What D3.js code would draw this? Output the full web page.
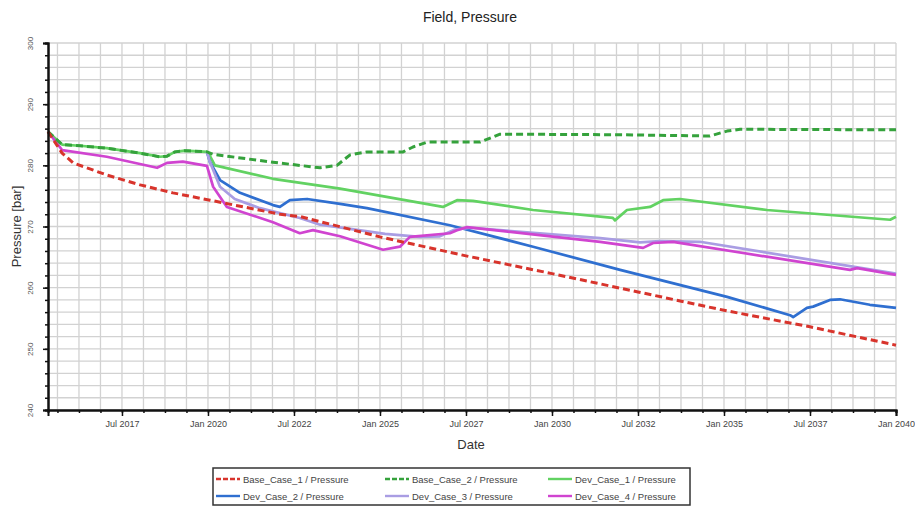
<!DOCTYPE html>
<html>
<head>
<meta charset="utf-8">
<script src="https://cdn.jsdelivr.net/npm/d3@7"></script>
<style>
  body { margin: 0; background: #fff; }
  svg { display: block; font-family: Arial, "Liberation Sans", sans-serif; }
</style>
</head>
<body>
<svg id="chart" width="915" height="516"></svg>
<script>
// Field pressure per case, as [decimal year, pressure in bar]
const baseCase1 = [
  [2015.35, 285.5], [2015.76, 282.0], [2016.08, 280.4], [2017.07, 278.4],
  [2018.03, 276.8], [2018.98, 275.5], [2020.06, 274.3], [2022.1, 272.0],
  [2022.7, 271.6], [2025.0, 268.3], [2027.5, 265.2], [2030.0, 262.3],
  [2032.5, 259.3], [2035.0, 256.3], [2037.5, 253.6], [2040.0, 250.6]
];
const baseCase2 = [
  [2015.35, 285.5], [2015.76, 283.4], [2016.28, 283.2], [2017.06, 282.8],
  [2018.02, 282.0], [2018.6, 281.4], [2018.81, 281.5], [2019.04, 282.2],
  [2019.33, 282.4], [2019.97, 282.2], [2020.15, 281.8], [2021.89, 280.5],
  [2023.26, 279.6], [2023.75, 280.0], [2024.13, 281.7], [2024.62, 282.2],
  [2025.67, 282.2], [2025.96, 283.0], [2026.37, 283.8], [2027.91, 283.8],
  [2028.49, 285.1], [2031.98, 285.0], [2034.59, 284.8], [2035.09, 285.6],
  [2035.47, 285.9], [2040.0, 285.8]
];
const devCase1 = [
  [2015.35, 285.5], [2015.76, 283.4], [2016.28, 283.2], [2017.06, 282.8],
  [2018.02, 282.0], [2018.6, 281.4], [2018.81, 281.5], [2019.04, 282.2],
  [2019.33, 282.4], [2019.97, 282.2], [2020.06, 281.5], [2020.2, 280.0],
  [2021.89, 277.8], [2023.84, 276.2], [2026.83, 273.2], [2027.24, 274.3],
  [2027.7, 274.2], [2029.45, 272.7], [2031.77, 271.4], [2031.83, 271.0],
  [2032.18, 272.7], [2032.85, 273.2], [2033.23, 274.3], [2033.72, 274.5],
  [2036.25, 272.7], [2039.83, 271.1], [2040.0, 271.6]
];
const devCase2 = [
  [2019.97, 282.2], [2020.06, 280.5], [2020.35, 277.6], [2020.93, 275.5],
  [2021.89, 273.5], [2022.09, 273.2], [2022.38, 274.3], [2022.88, 274.5],
  [2023.84, 273.7], [2024.62, 273.0], [2027.03, 270.2], [2029.45, 266.7],
  [2031.98, 262.9], [2035.09, 258.5], [2036.92, 255.5], [2037.01, 255.2],
  [2037.41, 256.7], [2037.59, 256.9], [2038.08, 258.0], [2038.37, 258.1],
  [2039.24, 257.2], [2040.0, 256.7]
];
const devCase3 = [
  [2019.97, 282.2], [2020.06, 280.5], [2020.35, 276.5], [2020.78, 274.5],
  [2021.51, 273.0], [2022.67, 271.4], [2023.26, 270.3], [2024.13, 269.6],
  [2025.15, 268.8], [2026.16, 268.3], [2026.74, 268.4], [2027.18, 269.5],
  [2027.62, 269.8], [2031.4, 268.1], [2032.56, 267.4], [2033.14, 267.6],
  [2034.3, 267.5], [2040.0, 262.3]
];
const devCase4 = [
  [2015.35, 285.5], [2015.76, 282.5], [2017.06, 281.4], [2018.52, 279.6],
  [2018.81, 280.4], [2019.27, 280.6], [2019.97, 279.9], [2020.15, 276.5],
  [2020.55, 273.2], [2021.89, 270.7], [2022.67, 268.9], [2023.05, 269.4],
  [2023.84, 268.4], [2025.09, 266.2], [2025.58, 266.7], [2025.87, 268.3],
  [2027.03, 268.9], [2027.24, 269.4], [2027.53, 269.9], [2031.4, 267.5],
  [2032.65, 266.5], [2032.94, 267.3], [2033.52, 267.5], [2038.66, 262.9],
  [2038.87, 263.2], [2040.0, 262.1]
];

const seriesNames = [
  "Base_Case_1 / Pressure", "Base_Case_2 / Pressure", "Dev_Case_1 / Pressure",
  "Dev_Case_2 / Pressure", "Dev_Case_3 / Pressure", "Dev_Case_4 / Pressure"
];
const seriesColors = ["#d8342c", "#35a23c", "#62d262", "#2f6fd0", "#a99de3", "#d044d0"];
const seriesDashed = [true, true, false, false, false, false];
const seriesData = [baseCase1, baseCase2, devCase1, devCase2, devCase3, devCase4];
// solid cases first so the dashed base cases stay visible on top
const drawOrder = [2, 3, 4, 5, 1, 0];

const yearStart = 2015.35, yearEnd = 2040;
const majorTickYears = [2017.5, 2020, 2022.5, 2025, 2027.5, 2030, 2032.5, 2035, 2037.5, 2040];
const majorTickLabels = ["Jul 2017", "Jan 2020", "Jul 2022", "Jan 2025", "Jul 2027",
                         "Jan 2030", "Jul 2032", "Jan 2035", "Jul 2037", "Jan 2040"];
const pressureTicks = [240, 250, 260, 270, 280, 290, 300];

const svg = d3.select("#chart");
const plot = { left: 48, right: 896, top: 43, bottom: 410 };

const x = d3.scaleLinear().domain([yearStart, yearEnd]).range([plot.left, plot.right]);
const y = d3.scaleLinear().domain([240, 300]).range([plot.bottom, plot.top]);

// minor divisions: four per 2.5-year label step, two bar in pressure
const minorYears = d3.range(-3, 37).map(k => 2017.5 + k * 0.625);
const minorPressures = d3.range(240, 301, 2);

// grid
const grid = svg.append("g").attr("stroke", "#d2d2d2").attr("stroke-width", 1.3);
grid.selectAll("line.v").data(minorYears).join("line")
  .attr("class", "v")
  .attr("x1", d => x(d)).attr("x2", d => x(d))
  .attr("y1", plot.top).attr("y2", plot.bottom);
grid.selectAll("line.h").data(minorPressures).join("line")
  .attr("class", "h")
  .attr("x1", plot.left).attr("x2", plot.right)
  .attr("y1", d => y(d)).attr("y2", d => y(d));

// series
const line = d3.line().x(d => x(d[0])).y(d => y(d[1]));
const lines = svg.append("g").attr("fill", "none")
  .attr("stroke-linejoin", "round").attr("stroke-linecap", "butt");
drawOrder.forEach(i => {
  lines.append("path")
    .datum(seriesData[i])
    .attr("d", line)
    .attr("stroke", seriesColors[i])
    .attr("stroke-width", seriesDashed[i] ? 3 : 2.7)
    .attr("stroke-dasharray", seriesDashed[i] ? "7,4" : null);
});

// x axis
const xMinor = d3.axisBottom(x).tickValues(minorYears).tickSize(3).tickFormat("");
const xMajor = d3.axisBottom(x).tickValues(majorTickYears).tickSize(6)
  .tickFormat((d, i) => majorTickLabels[i]);
const gxMinor = svg.append("g").attr("transform", `translate(0,${plot.bottom})`).call(xMinor);
const gxMajor = svg.append("g").attr("transform", `translate(0,${plot.bottom})`).call(xMajor);
[gxMinor, gxMajor].forEach(g => {
  g.select(".domain").attr("stroke", "#111").attr("stroke-width", 2);
  g.selectAll(".tick line").attr("stroke", "#111").attr("stroke-width", 1.5);
});
gxMajor.selectAll(".tick text")
  .attr("y", 11).attr("font-size", 9).attr("fill", "#444")
  .attr("font-family", "Arial, 'Liberation Sans', sans-serif");

// y axis
const yMinor = d3.axisLeft(y).tickValues(minorPressures).tickSize(3).tickFormat("");
const yMajor = d3.axisLeft(y).tickValues(pressureTicks).tickSize(5).tickFormat(d3.format("d"));
const gyMinor = svg.append("g").attr("transform", `translate(${plot.left},0)`).call(yMinor);
const gyMajor = svg.append("g").attr("transform", `translate(${plot.left},0)`).call(yMajor);
[gyMinor, gyMajor].forEach(g => {
  g.select(".domain").attr("stroke", "#111").attr("stroke-width", 2);
  g.selectAll(".tick line").attr("stroke", "#111").attr("stroke-width", 1.5);
});
gyMajor.selectAll(".tick text")
  .attr("x", null).attr("dy", null)
  .attr("text-anchor", "middle")
  .attr("transform", "translate(-15,0) rotate(-90)")
  .attr("font-size", 8).attr("fill", "#555")
  .attr("font-family", "Arial, 'Liberation Sans', sans-serif");

// titles
svg.append("text")
  .attr("x", 470).attr("y", 22)
  .attr("text-anchor", "middle").attr("font-size", 14).attr("fill", "#222")
  .text("Field, Pressure");
svg.append("text")
  .attr("x", 471).attr("y", 449)
  .attr("text-anchor", "middle").attr("font-size", 13).attr("fill", "#333")
  .text("Date");
svg.append("text")
  .attr("transform", `translate(21,${(plot.top + plot.bottom) / 2}) rotate(-90)`)
  .attr("text-anchor", "middle").attr("font-size", 13).attr("fill", "#333")
  .text("Pressure [bar]");

// legend
const legend = svg.append("g");
legend.append("rect")
  .attr("x", 213).attr("y", 468).attr("width", 477).attr("height", 37)
  .attr("fill", "#fff").attr("stroke", "#333").attr("stroke-width", 1.5);
const legendCols = [216, 385, 548];
const legendRows = [479, 496];
seriesNames.forEach((name, i) => {
  const lx = legendCols[i % 3], ly = legendRows[Math.floor(i / 3)];
  legend.append("line")
    .attr("x1", lx).attr("x2", lx + 24).attr("y1", ly).attr("y2", ly)
    .attr("stroke", seriesColors[i]).attr("stroke-width", 2.4)
    .attr("stroke-dasharray", seriesDashed[i] ? "5,2" : null);
  legend.append("text")
    .attr("x", lx + 27).attr("y", ly + 3.5)
    .attr("font-size", 9.5).attr("fill", "#444")
    .text(name);
});
</script>
</body>
</html>
